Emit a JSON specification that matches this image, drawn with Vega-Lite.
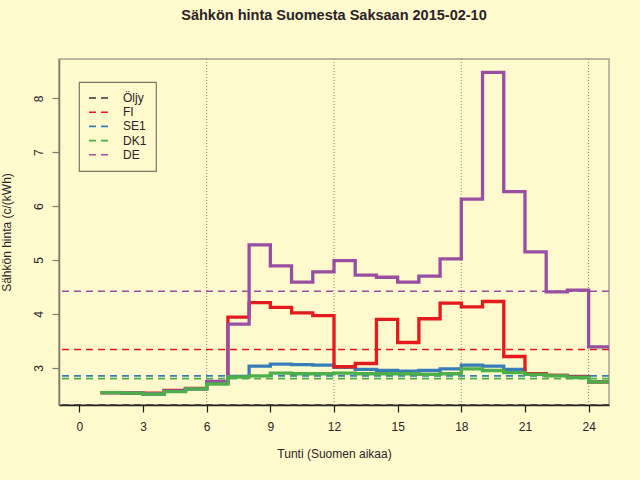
{
  "$schema": "https://vega.github.io/schema/vega-lite/v6.json",
  "width": 550,
  "height": 346,
  "autosize": {"type": "none"},
  "padding": {"left": 59, "top": 59, "right": 31, "bottom": 75},
  "background": "#FFFACD",
  "title": {
    "text": "Sähkön hinta Suomesta Saksaan 2015-02-10",
    "fontSize": 14.5,
    "fontWeight": "bold",
    "color": "#2a2228",
    "anchor": "middle",
    "baseline": "alphabetic",
    "offset": 24
  },
  "datasets": {
    "hourly": [
      {"h": 1, "area": "SE1", "price": 2.54}, {"h": 2, "area": "SE1", "price": 2.53}, {"h": 3, "area": "SE1", "price": 2.51}, {"h": 4, "area": "SE1", "price": 2.57},
      {"h": 5, "area": "SE1", "price": 2.61}, {"h": 6, "area": "SE1", "price": 2.71}, {"h": 7, "area": "SE1", "price": 2.84}, {"h": 8, "area": "SE1", "price": 3.03},
      {"h": 9, "area": "SE1", "price": 3.07}, {"h": 10, "area": "SE1", "price": 3.06}, {"h": 11, "area": "SE1", "price": 3.05}, {"h": 12, "area": "SE1", "price": 3.01},
      {"h": 13, "area": "SE1", "price": 2.97}, {"h": 14, "area": "SE1", "price": 2.95}, {"h": 15, "area": "SE1", "price": 2.94}, {"h": 16, "area": "SE1", "price": 2.95},
      {"h": 17, "area": "SE1", "price": 2.98}, {"h": 18, "area": "SE1", "price": 3.05}, {"h": 19, "area": "SE1", "price": 3.03}, {"h": 20, "area": "SE1", "price": 2.97},
      {"h": 21, "area": "SE1", "price": 2.89}, {"h": 22, "area": "SE1", "price": 2.86}, {"h": 23, "area": "SE1", "price": 2.84}, {"h": 24, "area": "SE1", "price": 2.74},
      {"h": 25, "area": "SE1", "price": 2.74},
      {"h": 1, "area": "FI", "price": 2.54}, {"h": 2, "area": "FI", "price": 2.53}, {"h": 3, "area": "FI", "price": 2.53}, {"h": 4, "area": "FI", "price": 2.58},
      {"h": 5, "area": "FI", "price": 2.62}, {"h": 6, "area": "FI", "price": 2.74}, {"h": 7, "area": "FI", "price": 3.94}, {"h": 8, "area": "FI", "price": 4.21},
      {"h": 9, "area": "FI", "price": 4.12}, {"h": 10, "area": "FI", "price": 4.02}, {"h": 11, "area": "FI", "price": 3.97}, {"h": 12, "area": "FI", "price": 3.02},
      {"h": 13, "area": "FI", "price": 3.08}, {"h": 14, "area": "FI", "price": 3.90}, {"h": 15, "area": "FI", "price": 3.47}, {"h": 16, "area": "FI", "price": 3.91},
      {"h": 17, "area": "FI", "price": 4.20}, {"h": 18, "area": "FI", "price": 4.13}, {"h": 19, "area": "FI", "price": 4.23}, {"h": 20, "area": "FI", "price": 3.21},
      {"h": 21, "area": "FI", "price": 2.89}, {"h": 22, "area": "FI", "price": 2.86}, {"h": 23, "area": "FI", "price": 2.83}, {"h": 24, "area": "FI", "price": 2.74},
      {"h": 25, "area": "FI", "price": 2.74},
      {"h": 1, "area": "DE", "price": 2.54}, {"h": 2, "area": "DE", "price": 2.53}, {"h": 3, "area": "DE", "price": 2.52}, {"h": 4, "area": "DE", "price": 2.57},
      {"h": 5, "area": "DE", "price": 2.61}, {"h": 6, "area": "DE", "price": 2.75}, {"h": 7, "area": "DE", "price": 3.81}, {"h": 8, "area": "DE", "price": 5.28},
      {"h": 9, "area": "DE", "price": 4.89}, {"h": 10, "area": "DE", "price": 4.59}, {"h": 11, "area": "DE", "price": 4.78}, {"h": 12, "area": "DE", "price": 4.99},
      {"h": 13, "area": "DE", "price": 4.72}, {"h": 14, "area": "DE", "price": 4.68}, {"h": 15, "area": "DE", "price": 4.59}, {"h": 16, "area": "DE", "price": 4.70},
      {"h": 17, "area": "DE", "price": 5.02}, {"h": 18, "area": "DE", "price": 6.13}, {"h": 19, "area": "DE", "price": 8.48}, {"h": 20, "area": "DE", "price": 6.27},
      {"h": 21, "area": "DE", "price": 5.15}, {"h": 22, "area": "DE", "price": 4.41}, {"h": 23, "area": "DE", "price": 4.44}, {"h": 24, "area": "DE", "price": 3.39},
      {"h": 25, "area": "DE", "price": 3.39},
      {"h": 1, "area": "DK1", "price": 2.54}, {"h": 2, "area": "DK1", "price": 2.53}, {"h": 3, "area": "DK1", "price": 2.51}, {"h": 4, "area": "DK1", "price": 2.56},
      {"h": 5, "area": "DK1", "price": 2.61}, {"h": 6, "area": "DK1", "price": 2.70}, {"h": 7, "area": "DK1", "price": 2.83}, {"h": 8, "area": "DK1", "price": 2.85},
      {"h": 9, "area": "DK1", "price": 2.90}, {"h": 10, "area": "DK1", "price": 2.89}, {"h": 11, "area": "DK1", "price": 2.89}, {"h": 12, "area": "DK1", "price": 2.90},
      {"h": 13, "area": "DK1", "price": 2.89}, {"h": 14, "area": "DK1", "price": 2.89}, {"h": 15, "area": "DK1", "price": 2.89}, {"h": 16, "area": "DK1", "price": 2.88},
      {"h": 17, "area": "DK1", "price": 2.89}, {"h": 18, "area": "DK1", "price": 2.98}, {"h": 19, "area": "DK1", "price": 2.95}, {"h": 20, "area": "DK1", "price": 2.91},
      {"h": 21, "area": "DK1", "price": 2.88}, {"h": 22, "area": "DK1", "price": 2.85}, {"h": 23, "area": "DK1", "price": 2.82}, {"h": 24, "area": "DK1", "price": 2.74},
      {"h": 25, "area": "DK1", "price": 2.74}
    ],
    "averages": [
      {"area": "Öljy", "avg": 2.31},
      {"area": "FI", "avg": 3.34},
      {"area": "SE1", "avg": 2.85},
      {"area": "DK1", "avg": 2.80},
      {"area": "DE", "avg": 4.42}
    ],
    "gridlines": [
      {"h": 6}, {"h": 12}, {"h": 18}, {"h": 24}
    ]
  },
  "layer": [
    {
      "data": {"name": "gridlines"},
      "mark": {"type": "rule", "color": "#8c8778", "strokeWidth": 1, "strokeDash": [1, 2]},
      "encoding": {
        "x": {"field": "h", "type": "quantitative"}
      }
    },
    {
      "data": {"name": "averages"},
      "mark": {"type": "rule", "strokeWidth": 1.6, "strokeDash": [7, 5]},
      "encoding": {
        "y": {"field": "avg", "type": "quantitative"},
        "color": {"field": "area", "type": "nominal"}
      }
    },
    {
      "data": {"name": "hourly"},
      "mark": {"type": "line", "interpolate": "step-after", "strokeWidth": 3.3, "clip": true},
      "encoding": {
        "x": {
          "field": "h",
          "type": "quantitative",
          "scale": {"domain": [-0.96, 24.96], "nice": false, "zero": false},
          "axis": {
            "title": "Tunti (Suomen aikaa)",
            "values": [0, 3, 6, 9, 12, 15, 18, 21, 24],
            "grid": false,
            "domainColor": "#1a1a1a",
            "tickColor": "#1a1a1a",
            "tickSize": 7,
            "labelPadding": 9,
            "titlePadding": 16
          }
        },
        "y": {
          "field": "price",
          "type": "quantitative",
          "scale": {"domain": [2.31, 8.73], "nice": false, "zero": false},
          "axis": {
            "title": "Sähkön hinta (c/(kWh)",
            "values": [3, 4, 5, 6, 7, 8],
            "grid": false,
            "domainColor": "#7f7a6c",
            "tickColor": "#7f7a6c",
            "tickSize": 7,
            "labelAngle": 270,
            "labelAlign": "center",
            "labelBaseline": "alphabetic",
            "labelPadding": 10,
            "titlePadding": 19
          }
        },
        "color": {
          "field": "area",
          "type": "nominal",
          "scale": {
            "domain": ["Öljy", "FI", "SE1", "DK1", "DE"],
            "range": ["#333333", "#E41A1C", "#377EB8", "#4DAF4A", "#984EA3"]
          },
          "legend": {
            "title": null,
            "orient": "none",
            "legendX": 20,
            "legendY": 23
          }
        },
        "order": {"field": "h"}
      }
    }
  ],
  "resolve": {"scale": {"color": "shared", "x": "shared", "y": "shared"}},
  "config": {
    "font": "Liberation Sans",
    "view": {"fill": "#FFFACD", "stroke": "#a9a393", "strokeWidth": 1.5},
    "axis": {
      "labelFontSize": 12,
      "labelColor": "#2a2228",
      "titleFontSize": 12,
      "titleFontWeight": "normal",
      "titleColor": "#2a2228",
      "domainWidth": 1.5,
      "tickWidth": 1.2
    },
    "legend": {
      "symbolType": "stroke",
      "symbolSize": 400,
      "symbolStrokeWidth": 1.6,
      "symbolDash": [7, 5],
      "labelFontSize": 12,
      "labelColor": "#2a2228",
      "labelOffset": 13,
      "clipHeight": 14,
      "rowPadding": 0.2,
      "padding": 9,
      "strokeColor": "#7d7768",
      "strokeWidth": 1.2,
      "fillColor": "#FFFACD"
    }
  }
}
